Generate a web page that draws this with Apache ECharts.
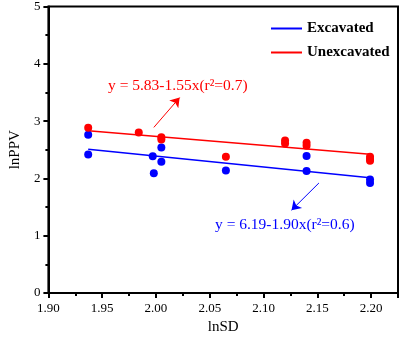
<!DOCTYPE html>
<html>
<head>
<meta charset="utf-8">
<script src="https://cdn.jsdelivr.net/npm/echarts@6/dist/echarts.min.js"></script>
<style>
  html, body { margin: 0; padding: 0; background: #fff; }
  #chart { width: 401px; height: 340px; }
</style>
</head>
<body>
<div id="chart"></div>
<script>
// 散点数据 [lnSD, lnPPV]
const excavatedPts = [
  [1.937, 2.76], [1.937, 2.415], [1.997, 2.386], [1.998, 2.09],
  [2.005, 2.54], [2.005, 2.29], [2.065, 2.14], [2.140, 2.39],
  [2.140, 2.13], [2.199, 1.98], [2.199, 1.92]
];
const unexcavatedPts = [
  [1.937, 2.886], [1.984, 2.80], [2.005, 2.72], [2.005, 2.68],
  [2.065, 2.38], [2.120, 2.66], [2.120, 2.61], [2.140, 2.62],
  [2.140, 2.57], [2.199, 2.38], [2.199, 2.34], [2.199, 2.31]
];
// 拟合直线端点
const excavatedFit = [[1.937, 2.51], [2.199, 2.01]];
const unexcavatedFit = [[1.937, 2.83], [2.199, 2.42]];
// 箭头（起点 -> 终点）
const redArrow = [[1.998, 2.89], [2.022, 3.41]];
const blueArrow = [[2.1515, 1.92], [2.126, 1.445]];

const seriesNames = ["Excavated", "Unexcavated"];
const blue = "#0000ff";
const red = "#ff0000";
const serif = "Liberation Serif";

const chart = echarts.init(document.getElementById("chart"));

const option = {
  animation: false,
  grid: {
    left: 33, right: 3, top: 4, bottom: 42,
    show: true, borderColor: "#000", borderWidth: 2
  },
  legend: {
    data: seriesNames,
    orient: "vertical",
    left: 266, top: 16,
    itemWidth: 31, itemHeight: 2, itemGap: 9,
    icon: "rect",
    textStyle: { fontFamily: serif, fontWeight: "bold", fontSize: 15, color: "#000" }
  },
  xAxis: {
    type: "value",
    min: 1.90, max: 2.225, interval: 0.05,
    name: "lnSD", nameLocation: "middle", nameGap: 27,
    nameTextStyle: { fontFamily: serif, fontSize: 15, color: "#000" },
    axisLine: { lineStyle: { color: "#000", width: 2 } },
    axisTick: { length: 5, lineStyle: { color: "#000", width: 2 } },
    minorTick: { show: true, splitNumber: 2, length: 3, lineStyle: { color: "#000", width: 2 } },
    splitLine: { show: false },
    axisLabel: {
      showMaxLabel: false, margin: 9,
      fontFamily: serif, fontSize: 13, color: "#000",
      formatter: (v) => v.toFixed(2)
    }
  },
  yAxis: {
    type: "value",
    min: 0, max: 5, interval: 1,
    name: "lnPPV", nameLocation: "middle", nameGap: 18,
    nameTextStyle: { fontFamily: serif, fontSize: 15, color: "#000" },
    axisLine: { lineStyle: { color: "#000", width: 2 } },
    axisTick: { length: 5, lineStyle: { color: "#000", width: 2 } },
    minorTick: { show: true, splitNumber: 2, length: 3, lineStyle: { color: "#000", width: 2 } },
    splitLine: { show: false },
    axisLabel: { margin: 8, fontFamily: serif, fontSize: 13, color: "#000" }
  },
  series: [
    {
      name: "Excavated", type: "line", data: excavatedFit,
      showSymbol: false, itemStyle: { color: blue },
      lineStyle: { color: blue, width: 1.5 }, z: 2
    },
    {
      name: "Unexcavated", type: "line", data: unexcavatedFit,
      showSymbol: false, itemStyle: { color: red },
      lineStyle: { color: red, width: 1.5 }, z: 2
    },
    {
      name: "ex-pts", type: "scatter", data: excavatedPts,
      symbolSize: 8, itemStyle: { color: blue, opacity: 1 }, z: 3
    },
    {
      name: "unex-pts", type: "scatter", data: unexcavatedPts,
      symbolSize: 8, itemStyle: { color: red, opacity: 1 }, z: 3
    },
    {
      name: "arrows", type: "lines", coordinateSystem: "cartesian2d",
      symbol: ["none", "arrow"], symbolSize: 9,
      data: [
        { coords: redArrow, lineStyle: { color: red } },
        { coords: blueArrow, lineStyle: { color: blue } }
      ],
      lineStyle: { width: 1, opacity: 1 }
    }
  ],
  graphic: [
    {
      type: "text", left: 108, top: 78,
      style: { text: "y = 5.83-1.55x(r²=0.7)", fill: red, font: "15.5px 'Liberation Serif'" }
    },
    {
      type: "text", left: 215, top: 217,
      style: { text: "y = 6.19-1.90x(r²=0.6)", fill: blue, font: "15.5px 'Liberation Serif'" }
    }
  ]
};

chart.setOption(option);
</script>
</body>
</html>
